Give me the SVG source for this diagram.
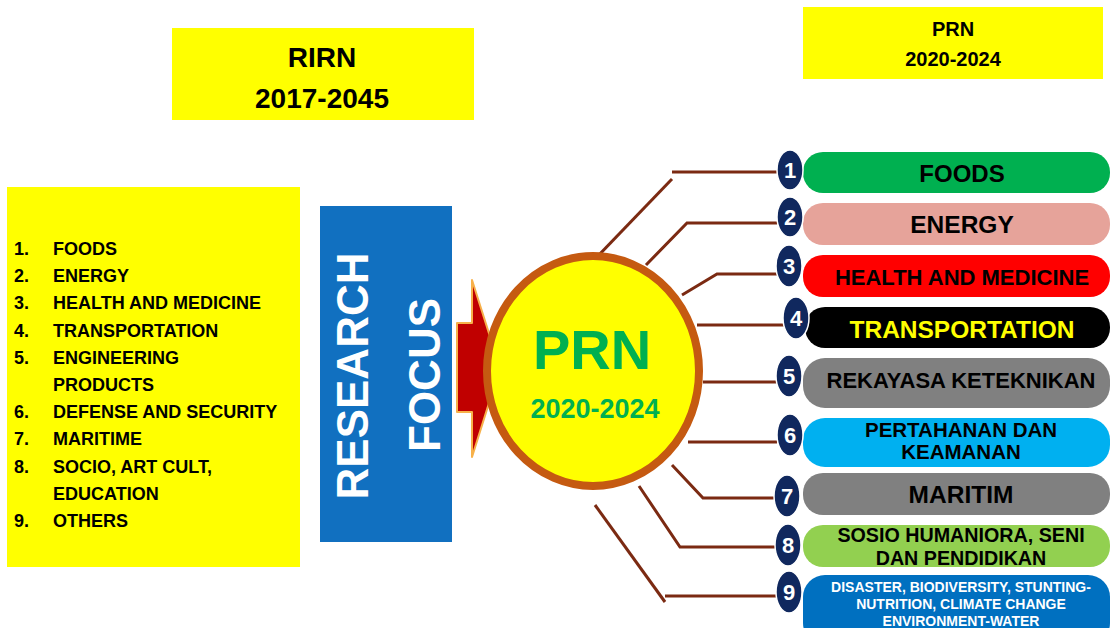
<svg xmlns="http://www.w3.org/2000/svg" width="1112" height="628" viewBox="0 0 1112 628">
<style>
text{font-family:"Liberation Sans",Arial,sans-serif;font-weight:bold}
.hdr{fill:#FFFF00}
.lst{font-size:18px;fill:#000}
.num{fill:#10285E;stroke:#FFFFFF;stroke-width:1.5}
.numt{font-size:22px;fill:#FFFFFF;text-anchor:middle}
.pt{text-anchor:middle;fill:#000}
.con{fill:none;stroke:#7B2A12;stroke-width:3}
</style>
<rect width="1112" height="628" fill="#FFFFFF"/>

<g id="rirn-header">
<rect class="hdr" x="172" y="28" width="302" height="92"/>
<text x="322" y="67" font-size="28" text-anchor="middle">RIRN</text>
<text x="322" y="108" font-size="28" text-anchor="middle">2017-2045</text>
</g>

<g id="prn-header">
<rect class="hdr" x="803" y="7" width="300" height="72"/>
<text x="953" y="36" font-size="20" text-anchor="middle">PRN</text>
<text x="953" y="66" font-size="20" text-anchor="middle">2020-2024</text>
</g>

<g id="rirn-list">
<rect class="hdr" x="7" y="187" width="293" height="380"/>
<g class="lst">
<text x="14" y="255">1.</text><text x="53" y="255">FOODS</text>
<text x="14" y="282">2.</text><text x="53" y="282">ENERGY</text>
<text x="14" y="309">3.</text><text x="53" y="309">HEALTH AND MEDICINE</text>
<text x="14" y="337">4.</text><text x="53" y="337">TRANSPORTATION</text>
<text x="14" y="364">5.</text><text x="53" y="364">ENGINEERING</text>
<text x="53" y="391">PRODUCTS</text>
<text x="14" y="418">6.</text><text x="53" y="418">DEFENSE AND SECURITY</text>
<text x="14" y="445">7.</text><text x="53" y="445">MARITIME</text>
<text x="14" y="473">8.</text><text x="53" y="473">SOCIO, ART CULT,</text>
<text x="53" y="500">EDUCATION</text>
<text x="14" y="527">9.</text><text x="53" y="527">OTHERS</text>
</g>
</g>

<g id="research-focus">
<rect x="320" y="206" width="132" height="336" fill="#1170C0"/>
<text transform="translate(368,376) rotate(-90)" font-size="44" fill="#FFFFFF" text-anchor="middle">RESEARCH</text>
<text transform="translate(440,375) rotate(-90)" font-size="44" fill="#FFFFFF" text-anchor="middle">FOCUS</text>
</g>

<g id="arrow">
<polygon points="457,323 472,323 472,280 500,368 472,457 472,412 457,412" fill="#C00000" stroke="#F7B14A" stroke-width="2" stroke-linejoin="round"/>
</g>

<g id="connectors">
<polyline class="con" points="672,172 777,172"/>
<polyline class="con" points="672,179 596,258"/>
<polyline class="con" points="646,265 687,223 777,223"/>
<polyline class="con" points="682,295 717,274 777,274"/>
<polyline class="con" points="697,325 785,325"/>
<polyline class="con" points="703,382 777,382"/>
<polyline class="con" points="688,442 777,442"/>
<polyline class="con" points="672,465 703,498 777,498"/>
<polyline class="con" points="639,486 680,547 777,547"/>
<polyline class="con" points="595,505 665,602"/>
<polyline class="con" points="665,596 777,596"/>
</g>

<g id="prn-center">
<ellipse cx="593" cy="371" rx="106" ry="115" fill="#FFFF00" stroke="#C55A11" stroke-width="8"/>
<text x="592" y="369" font-size="56" fill="#00B050" text-anchor="middle">PRN</text>
<text x="595" y="418" font-size="27" fill="#00B050" text-anchor="middle">2020-2024</text>
</g>

<g id="item-1">
<rect x="803" y="152" width="307" height="41" rx="20" fill="#00B050"/>
<text class="pt" x="962" y="182" font-size="24">FOODS</text>
<ellipse class="num" cx="790" cy="170" rx="13" ry="20"/>
<text class="numt" x="790" y="178">1</text>
</g>

<g id="item-2">
<rect x="803" y="203" width="307" height="42" rx="20" fill="#E6A39A"/>
<text class="pt" x="962" y="233" font-size="24.5">ENERGY</text>
<ellipse class="num" cx="790" cy="217" rx="13" ry="20"/>
<text class="numt" x="790" y="225">2</text>
</g>

<g id="item-3">
<rect x="803" y="255" width="307" height="42" rx="20" fill="#FF0000"/>
<text class="pt" x="962" y="285" font-size="22">HEALTH AND MEDICINE</text>
<ellipse class="num" cx="789" cy="266" rx="13" ry="21"/>
<text class="numt" x="789" y="274">3</text>
</g>

<g id="item-4">
<rect x="805" y="307" width="305" height="41" rx="20" fill="#000000"/>
<text class="pt" x="962" y="338" font-size="24.5" style="fill:#FFFF00">TRANSPORTATION</text>
<ellipse class="num" cx="796" cy="318" rx="13" ry="21"/>
<text class="numt" x="796" y="326">4</text>
</g>

<g id="item-5">
<rect x="803" y="358" width="307" height="50" rx="22" fill="#808080"/>
<text class="pt" x="961" y="388" font-size="22">REKAYASA KETEKNIKAN</text>
<ellipse class="num" cx="789" cy="376" rx="13" ry="21"/>
<text class="numt" x="789" y="384">5</text>
</g>

<g id="item-6">
<rect x="803" y="418" width="307" height="49" rx="22" fill="#00B0F0"/>
<text class="pt" x="961" y="437" font-size="20.5">PERTAHANAN DAN</text>
<text class="pt" x="961" y="459" font-size="20.5">KEAMANAN</text>
<ellipse class="num" cx="790" cy="435" rx="13" ry="21"/>
<text class="numt" x="790" y="443">6</text>
</g>

<g id="item-7">
<rect x="803" y="473" width="307" height="42" rx="20" fill="#808080"/>
<text class="pt" x="961" y="503" font-size="24.5">MARITIM</text>
<ellipse class="num" cx="787" cy="496" rx="13" ry="21"/>
<text class="numt" x="787" y="504">7</text>
</g>

<g id="item-8">
<rect x="803" y="525" width="307" height="42" rx="20" fill="#92D050"/>
<text class="pt" x="961" y="542" font-size="19.7">SOSIO HUMANIORA, SENI</text>
<text class="pt" x="961" y="565" font-size="19.7">DAN PENDIDIKAN</text>
<ellipse class="num" cx="788" cy="545" rx="13" ry="21"/>
<text class="numt" x="788" y="553">8</text>
</g>

<g id="item-9">
<rect x="803" y="575" width="307" height="70" rx="22" fill="#0070C0"/>
<text class="pt" x="961" y="592" font-size="14" style="fill:#FFFFFF">DISASTER, BIODIVERSITY, STUNTING-</text>
<text class="pt" x="961" y="609" font-size="14" style="fill:#FFFFFF">NUTRITION, CLIMATE CHANGE</text>
<text class="pt" x="961" y="626" font-size="14" style="fill:#FFFFFF">ENVIRONMENT-WATER</text>
<ellipse class="num" cx="789" cy="592" rx="13" ry="21"/>
<text class="numt" x="789" y="600">9</text>
</g>
</svg>
